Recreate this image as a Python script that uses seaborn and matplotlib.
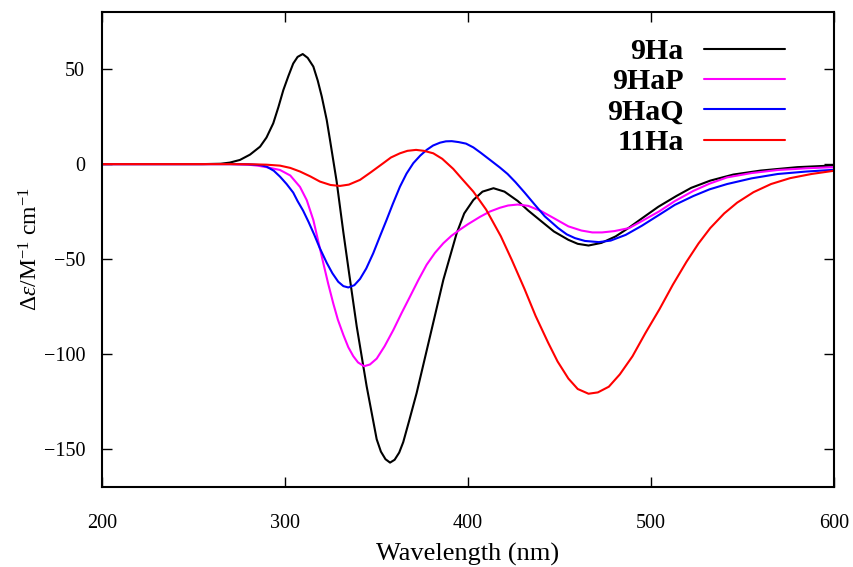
import numpy as np
import pandas as pd
import matplotlib
matplotlib.use("Agg")
import matplotlib.pyplot as plt
import seaborn as sns

# ---- data ----
wl_9Ha = [200, 255, 265, 270, 275.5, 281, 286.5, 290, 293.7, 296.5, 299.2, 302, 304.6, 307,
          309.8, 312.5, 315.6, 318, 320.2, 322.9, 324.7, 328.3, 332, 335.2, 339.3, 344.7,
          350.2, 352.5, 355, 357.5, 360, 362.5, 364.7, 368, 372, 379.3, 386.6, 393.9, 398, 403,
          408, 414, 420, 427.2, 433, 440.1, 447, 454.9, 460, 465.9, 473, 480.7, 488, 495.5, 504,
          513.9, 522, 532.4, 545, 560, 580, 600]
val_9Ha = [0, 0, 0.2, 0.8, 2.2, 5, 9.2, 14, 21.5, 30, 39, 46.5, 53, 56.5,
           58, 56, 51.4, 44, 35.6, 23.3, 12.7, -9, -36, -58, -85.6, -117,
           -145, -151.5, -155.5, -157.3, -155.8, -152, -146.5, -135, -120.7, -90.9, -61, -36.4, -26, -18.9,
           -14.5, -12.7, -14.5, -19.4, -24.5, -30.1, -35.5, -39.9, -42, -42.9, -41.5, -38.1, -33.5, -28.3, -22.5,
           -16.8, -12.5, -8.7, -5.5, -3.4, -1.6, -0.7]

wl_9HaP = [200, 270, 280, 285, 290, 297.4, 303, 308.3, 312, 315.6, 318, 321, 323.7, 326.5,
           329, 332, 334.7, 337.4, 340, 343.3, 346.5, 350.2, 354.5, 359.3, 363.8, 368.4, 373,
           377.5, 382, 386.6, 391, 395.7, 400, 406.6, 412, 417.5, 422, 427.2, 433, 440.1, 447,
           454.9, 462, 468, 473.3, 480, 488.1, 496, 504.7, 513, 523.2, 532, 541.6, 555, 569.3,
           585, 600]
val_9HaP = [0, 0, -0.3, -0.8, -1.6, -3.1, -6, -12, -19, -29.5, -39.5, -52, -63, -73.5,
            -82, -90, -96.5, -101.2, -104.5, -106.5, -105.6, -102.5, -96, -87.4, -78.5, -69.8, -61,
            -53, -46.8, -41.7, -37.8, -34.5, -31.7, -27.8, -25, -23, -21.8, -21.3, -22, -24.8, -28.5,
            -32.8, -35, -36, -36, -35.3, -33.7, -29.5, -24.8, -19.5, -14.1, -10.3, -7, -4.7, -3.1,
            -2.2, -1.6]

wl_9HaQ = [200, 270, 280, 286.5, 290, 294, 297.4, 301, 304.6, 307, 310, 313, 316, 319,
           322.9, 326, 329.2, 332, 334.7, 338, 341.1, 344.5, 348.3, 352, 355.6, 359, 362.9,
           366.5, 370.2, 374, 377.5, 381, 384.8, 388, 391.2, 395, 399, 403, 407, 412, 417.5,
           421.7, 426, 431, 436.4, 442, 449.3, 454, 458.5, 464, 471.5, 478, 486.2, 495, 504.7,
           513, 523.2, 532, 541.6, 555, 569.3, 585, 600]
val_9HaQ = [0, 0, -0.1, -0.5, -1.3, -3.5, -6.6, -10.5, -15, -19.5, -24.5, -30.5, -37, -44,
            -52, -57.5, -62, -64.3, -65, -63.8, -60.5, -55, -47, -38, -29.4, -21, -11.9,
            -5, 0.5, 4.5, 7.5, 9.8, 11.3, 12, 12.1, 11.6, 10.8, 8.8, 6, 2.3, -1.8,
            -5.2, -9.5, -15, -21.2, -27.5, -33.7, -37, -39, -40.5, -41.1, -40.3, -37.3, -32.5, -26.6,
            -21.5, -16.8, -13.3, -10.5, -7.5, -5.2, -3.9, -3]

wl_11Ha = [200, 270, 282, 290, 297.4, 303, 308.3, 314, 319.2, 325, 330.1, 335, 341.1, 347,
           353.8, 358, 362.9, 367, 371.7, 376, 381.1, 386, 392, 397, 403, 410, 418, 424,
           430.9, 437, 443.8, 449, 454.9, 460, 465.9, 471, 477, 483, 489.9, 497, 504.7, 512,
           519.4, 526, 532.4, 540, 547.1, 556, 565.6, 576, 587.7, 600]
val_11Ha = [0, 0, -0.1, -0.3, -0.8, -2, -3.9, -6.5, -9.2, -11, -11.5, -10.8, -8.3, -4.3,
            0.5, 3.5, 5.7, 7, 7.5, 7, 5.7, 2.8, -2.5, -8, -14.5, -24, -38, -50.5,
            -65.7, -80, -94, -104, -113, -118.5, -121, -120.3, -117.3, -110.8, -101.3, -89, -76.4, -63.5,
            -51.5, -41.8, -33.7, -26, -20.3, -14.8, -10.5, -7.4, -5.2, -3.5]

series_names = ["9Ha", "9HaP", "9HaQ", "11Ha"]
series_colors = ["#000000", "#ff00ff", "#0000ff", "#ff0000"]
x_ticks = [200, 300, 400, 500, 600]
y_ticks = [50, 0, -50, -100, -150]

frames = []
for name, w, v in zip(series_names,
                      [wl_9Ha, wl_9HaP, wl_9HaQ, wl_11Ha],
                      [val_9Ha, val_9HaP, val_9HaQ, val_11Ha]):
    frames.append(pd.DataFrame({"wl": w, "val": v, "series": name}))
df = pd.concat(frames, ignore_index=True)

sns.set_theme(style="ticks")
plt.rcParams["font.family"] = ["Liberation Serif", "DejaVu Serif"]
plt.rcParams["mathtext.fontset"] = "custom"
plt.rcParams["mathtext.rm"] = "Liberation Serif"
plt.rcParams["mathtext.it"] = "Liberation Serif:italic"
plt.rcParams["text.color"] = "black"
plt.rcParams["axes.labelcolor"] = "black"
plt.rcParams["xtick.color"] = "black"
plt.rcParams["ytick.color"] = "black"

fig = plt.figure(figsize=(8.54, 5.67), dpi=100)
ax = fig.add_axes([0.1191, 0.1416, 0.8575, 0.8367])

sns.lineplot(data=df, x="wl", y="val", hue="series", hue_order=series_names,
             palette=dict(zip(series_names, series_colors)), estimator=None,
             sort=False, linewidth=1.5, ax=ax)

ax.set_xlim(200, 600)
ax.set_ylim(-170, 80)
ax.set_xticks(x_ticks)
ax.set_yticks(y_ticks)
ax.tick_params(direction="in", length=7, width=1.0, top=True, right=True,
               labelsize=14.5, colors="black")
ax.tick_params(axis="x", pad=20)
ax.tick_params(axis="y", pad=12)
for s in ax.spines.values():
    s.set_visible(True)
    s.set_linewidth(1.5)
    s.set_color("black")

ax.set_xlabel("Wavelength (nm)", fontsize=19, labelpad=7)
ax.set_ylabel(r"$\mathit{Δε}$/M$^{-1}$ cm$^{-1}$", fontsize=17, labelpad=1)

handles, labels = ax.get_legend_handles_labels()
leg = ax.legend(handles, labels, loc="upper right", bbox_to_anchor=(0.953, 0.977),
                frameon=False, markerfirst=False, handlelength=2.7,
                handletextpad=0.68, labelspacing=0.11, borderpad=0,
                prop={"family": "Liberation Serif", "weight": "bold", "size": 21.5})
for ln in leg.get_lines():
    ln.set_linewidth(1.5)
for t in leg.get_texts():
    t.set_color("black")

fig.savefig("out.png", dpi=100)
